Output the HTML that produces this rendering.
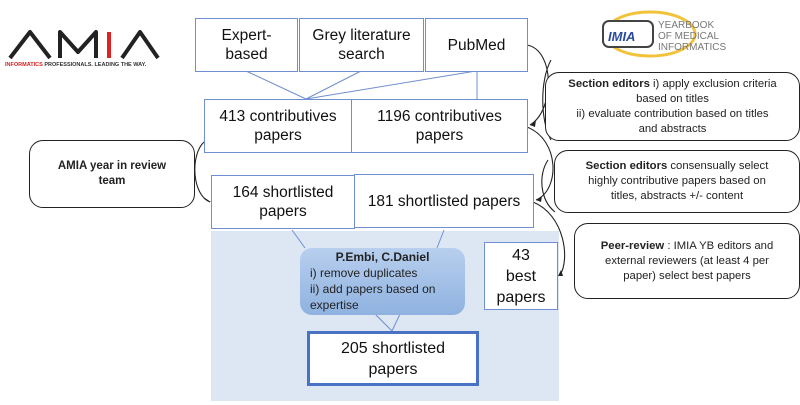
<!DOCTYPE html>
<html><head><style>
body{margin:0;width:800px;height:405px;background:#fff;position:relative;overflow:hidden;font-family:"Liberation Sans",sans-serif;}
.b{position:absolute;box-sizing:border-box;border:1.5px solid #6f8fd0;background:#fff;display:flex;align-items:center;justify-content:center;text-align:center;font-size:15.5px;line-height:19px;color:#111;}
.r{position:absolute;box-sizing:border-box;border:1.3px solid #222;border-radius:14px;background:#fff;text-align:center;font-size:11.5px;line-height:15px;color:#222;display:flex;align-items:center;justify-content:center;}
</style></head><body>
<div style="position:absolute;left:211px;top:231px;width:348px;height:170px;background:#dde7f4"></div>
<svg style="position:absolute;left:0;top:0" width="800" height="405">
<g stroke="#6f8fd0" stroke-width="1" fill="none">
<line x1="246" y1="71" x2="306" y2="99"/><line x1="361" y1="71" x2="306" y2="99"/><line x1="476" y1="71" x2="306" y2="99"/><line x1="477" y1="71" x2="477" y2="99"/>
<line x1="292" y1="230" x2="305" y2="248"/><line x1="444" y1="230" x2="437" y2="248"/>
<line x1="375" y1="314" x2="392" y2="331"/><line x1="400" y1="314" x2="392" y2="331"/>
</g>
<g stroke="#222" stroke-width="1.1" fill="none">
<path d="M527 45 C555 50 555 110 530 125"/><path d="M527 127 C560 140 560 190 536 200"/><path d="M533 202 C565 215 570 260 560 275"/><path d="M204 142 C190 155 192 195 210 202"/>
<path d="M551 60 C540 80 540 120 551 140"/><path d="M548 160 C538 175 540 200 555 212"/>
</g>
<g fill="#222"><path d="M530 125 l6 -5 l-1 7z"/><path d="M536 200 l6 -4 l-1 6z"/><path d="M558 276 l3 -6 l2 6z"/><path d="M210 202 l-6 -3 l1 -1 6 4z"/></g>
<path d="M10 58 L30 32 L50 58 M60 58 L60 32 L78 52 L96 32 L96 58 M122 58 L140 32 L158 58" stroke="#222" stroke-width="4" fill="none" stroke-linejoin="round"/>
<line x1="109" y1="32" x2="109" y2="58" stroke="#d22" stroke-width="4"/>
<ellipse cx="650" cy="34" rx="45" ry="22" fill="none" stroke="#f2c33a" stroke-width="3"/>
<rect x="603" y="21" width="50" height="26" rx="6" fill="#fff" stroke="#444" stroke-width="2"/>
<text x="608" y="41" font-size="13" font-weight="bold" font-style="italic" fill="#2a4aa0">IMIA</text>
<text x="658" y="28" font-size="10" fill="#777">YEARBOOK</text><text x="658" y="39" font-size="10" fill="#777">OF MEDICAL</text><text x="658" y="50" font-size="10" fill="#777">INFORMATICS</text>
</svg>
<div style="position:absolute;left:5px;top:62px;font-size:5.5px;font-weight:bold;color:#333;white-space:nowrap"><span style="color:#d22">INFORMATICS</span> PROFESSIONALS. LEADING THE WAY.</div>
<div class="b" style="left:195px;top:18px;width:103px;height:54px">Expert-<br>based</div>
<div class="b" style="left:299px;top:18px;width:125px;height:54px">Grey literature<br>search</div>
<div class="b" style="left:425px;top:18px;width:103px;height:54px">PubMed</div>
<div class="b" style="left:204px;top:99px;width:148px;height:54px">413 contributives<br>papers</div>
<div class="b" style="left:351px;top:99px;width:177px;height:54px">1196 contributives<br>papers</div>
<div class="b" style="left:211px;top:175px;width:144px;height:54px">164 shortlisted<br>papers</div>
<div class="b" style="left:354px;top:174px;width:180px;height:54px">181 shortlisted papers</div>
<div style="position:absolute;left:300px;top:248px;width:165px;height:67px;border-radius:12px;background:linear-gradient(#b8cfee,#8fb2e0);font-size:12px;line-height:16px;color:#222;box-sizing:border-box;padding:1px 10px"><div style="text-align:center;font-weight:bold">P.Embi, C.Daniel</div>i) remove duplicates<br>ii) add papers based on<br>expertise</div>
<div class="b" style="left:484px;top:242px;width:74px;height:68px;font-size:16px;line-height:21px">43<br>best<br>papers</div>
<div class="b" style="left:307px;top:331px;width:172px;height:55px;border:3px solid #4a72c4;font-size:16px;line-height:21px">205 shortlisted<br>papers</div>
<div class="r" style="left:29px;top:140px;width:166px;height:68px;font-weight:bold">AMIA year in review<br>team</div>
<div class="r" style="left:545px;top:72px;width:255px;height:69px;font-size:11.3px"><div><b>Section editors</b> i) apply exclusion criteria<br>based on titles<br>ii) evaluate contribution based on titles<br>and abstracts</div></div>
<div class="r" style="left:554px;top:150px;width:246px;height:63px;font-size:11.3px"><div><b>Section editors</b> consensually select<br>highly contributive papers based on<br>titles, abstracts +/- content</div></div>
<div class="r" style="left:574px;top:223px;width:226px;height:76px;font-size:11.3px"><div><b>Peer-review</b> : IMIA YB editors and<br>external reviewers (at least 4 per<br>paper) select best papers</div></div>
</body></html>
